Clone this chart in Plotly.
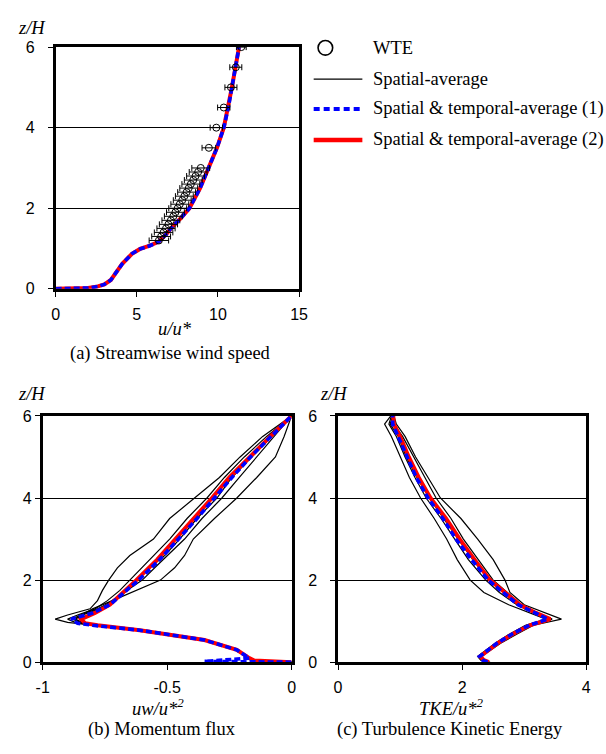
import plotly.graph_objects as go

W, H = 606, 754

# ---------------- Panel (a): streamwise wind speed ----------------
a_z = [0, 0.02, 0.06, 0.11, 0.22, 0.38, 0.62, 0.87, 0.99, 1.07, 1.17, 1.35, 1.5, 1.75, 2.0, 2.5, 3.0, 3.5, 4.0, 4.5, 5.0, 5.5, 6.0]
a_u = [0, 2.0, 2.6, 3.0, 3.4, 3.7, 4.1, 4.7, 5.2, 5.8, 6.35, 6.8, 7.1, 7.7, 8.24, 8.9, 9.44, 9.94, 10.36, 10.64, 10.86, 11.08, 11.3]

wte_z = [1.2, 1.3, 1.4, 1.5, 1.6, 1.7, 1.8, 1.9, 2.0, 2.1, 2.2, 2.3, 2.4, 2.5, 2.6, 2.7, 2.8, 2.9, 3.0,
         3.5, 4.0, 4.5, 5.0, 5.5, 6.0]
wte_u = [6.36, 6.5, 6.65, 6.8, 6.95, 7.1, 7.25, 7.38, 7.52, 7.65, 7.8, 7.93, 8.07, 8.2, 8.33, 8.48, 8.62, 8.78, 8.94,
         9.44, 9.9, 10.36, 10.8, 11.1, 11.44]
wte_err = [0.6, 0.58, 0.57, 0.56, 0.56, 0.55, 0.55, 0.55, 0.55, 0.55, 0.55, 0.55, 0.55, 0.55, 0.55, 0.55, 0.55, 0.55, 0.55,
           0.42, 0.38, 0.38, 0.37, 0.37, 0.3]

# ---------------- Panel (b): momentum flux ----------------
b_red_z = [0, 0.04, 0.1, 0.3, 0.54, 0.78, 0.9, 0.95, 1.05, 1.2, 1.4, 1.7, 2.0, 2.5, 3.0, 3.5, 4.0, 4.5, 5.0, 5.5, 6.0]
b_red_x = [0, -0.15, -0.17, -0.22, -0.35, -0.61, -0.78, -0.83, -0.846, -0.79, -0.73, -0.675, -0.624, -0.54, -0.465, -0.39, -0.32, -0.25, -0.17, -0.085, 0]
b_blue_z = [0, 0.02, 0.1, 0.3, 0.54, 0.78, 0.9, 0.95, 1.05, 1.2, 1.4, 1.7, 2.0, 2.5, 3.0, 3.5, 4.0, 4.5, 5.0, 5.5, 6.0]
b_blue_x = [0, -0.35, -0.17, -0.22, -0.35, -0.61, -0.80, -0.86, -0.885, -0.80, -0.73, -0.67, -0.615, -0.53, -0.455, -0.38, -0.31, -0.24, -0.165, -0.08, 0]

b_blk_z = [0, 0.04, 0.1, 0.3, 0.54, 0.78, 0.9, 0.97, 1.05, 1.15, 1.3, 1.5, 1.75, 2.0, 2.3, 2.6, 3.0, 3.5, 4.0, 4.5, 5.0, 5.5, 6.0]
b_blk1 = [0, -0.15, -0.175, -0.225, -0.36, -0.62, -0.80, -0.90, -0.95, -0.90, -0.81, -0.78, -0.76, -0.735, -0.70, -0.65, -0.555, -0.49, -0.39, -0.29, -0.207, -0.116, 0]
b_blk2 = [0, -0.15, -0.17, -0.22, -0.35, -0.61, -0.78, -0.84, -0.87, -0.84, -0.80, -0.72, -0.62, -0.527, -0.47, -0.43, -0.395, -0.31, -0.22, -0.14, -0.065, -0.03, 0]
b_blk3 = [0, -0.15, -0.17, -0.22, -0.35, -0.61, -0.79, -0.85, -0.87, -0.84, -0.77, -0.72, -0.66, -0.60, -0.55, -0.50, -0.43, -0.36, -0.28, -0.21, -0.14, -0.07, 0]
b_blk4 = [0, -0.15, -0.17, -0.22, -0.35, -0.61, -0.80, -0.87, -0.90, -0.86, -0.79, -0.74, -0.69, -0.65, -0.60, -0.55, -0.49, -0.42, -0.34, -0.27, -0.19, -0.10, 0]
b_blk5 = [0, -0.15, -0.17, -0.22, -0.35, -0.61, -0.79, -0.85, -0.88, -0.85, -0.78, -0.71, -0.66, -0.62, -0.57, -0.51, -0.45, -0.38, -0.30, -0.24, -0.16, -0.08, 0]

# ---------------- Panel (c): turbulence kinetic energy ----------------
c_z = [0, 0.05, 0.14, 0.26, 0.46, 0.7, 0.9, 1.05, 1.2, 1.4, 1.7, 2.0, 2.5, 3.0, 3.5, 4.0, 4.5, 5.0, 5.5, 5.8, 6.0]
c_red = [2.43, 2.35, 2.29, 2.39, 2.57, 2.83, 3.09, 3.42, 3.19, 2.93, 2.69, 2.45, 2.2, 1.96, 1.74, 1.49, 1.30, 1.14, 1.0, 0.9, 0.89]
c_blue = [2.41, 2.33, 2.28, 2.38, 2.56, 2.82, 3.08, 3.38, 3.17, 2.9, 2.66, 2.42, 2.15, 1.9, 1.69, 1.45, 1.26, 1.11, 0.97, 0.88, 0.88]
c_blk1 = [2.45, 2.36, 2.31, 2.42, 2.62, 2.9, 3.15, 3.6, 3.35, 3.0, 2.77, 2.69, 2.5, 2.25, 1.98, 1.65, 1.45, 1.25, 1.08, 0.94, 0.9]
c_blk2 = [2.38, 2.3, 2.25, 2.35, 2.53, 2.78, 3.02, 3.35, 3.1, 2.75, 2.35, 2.13, 1.92, 1.75, 1.55, 1.33, 1.15, 1.0, 0.86, 0.75, 0.85]
c_blk3 = [2.4, 2.32, 2.27, 2.37, 2.55, 2.8, 3.05, 3.38, 3.15, 2.88, 2.6, 2.38, 2.1, 1.88, 1.66, 1.42, 1.24, 1.08, 0.94, 0.82, 0.86]
c_blk4 = [2.42, 2.34, 2.3, 2.4, 2.58, 2.85, 3.1, 3.45, 3.22, 2.95, 2.72, 2.5, 2.26, 2.02, 1.82, 1.58, 1.4, 1.22, 1.04, 0.9, 0.9]
c_blk5 = [2.41, 2.33, 2.28, 2.38, 2.56, 2.82, 3.08, 3.4, 3.17, 2.9, 2.66, 2.43, 2.17, 1.93, 1.7, 1.47, 1.27, 1.1, 0.97, 0.84, 0.88]

# ---------------- tick labels ----------------
a_xticks = [0, 5, 10, 15]
a_xtext = ["0", "5", "10", "15"]
b_xticks = [-1, -0.5, 0]
b_xtext = ["-1", "-0.5", "0"]
c_xticks = [0, 2, 4]
c_xtext = ["0", "2", "4"]
z_ticks = [0, 2, 4, 6]
z_text = ["0", "2", "4", "6"]

legend_labels = ["WTE", "Spatial-average", "Spatial &amp; temporal-average (1)", "Spatial &amp; temporal-average (2)"]

RED = "#ff0000"
BLUE = "#0000ff"
SERIF = "Liberation Serif, Times New Roman, serif"
SANS = "Liberation Sans, Arial, sans-serif"

fig = go.Figure()

def add_lines(xa, ya, zvals_blk, blacks, zr, xr, zb, xb):
    for bx in blacks:
        fig.add_trace(go.Scatter(x=bx, y=zvals_blk, mode="lines", line=dict(color="black", width=1.2),
                                 xaxis=xa, yaxis=ya, showlegend=False))
    fig.add_trace(go.Scatter(x=xr, y=zr, mode="lines", line=dict(color=RED, width=4),
                             xaxis=xa, yaxis=ya, showlegend=False))
    fig.add_trace(go.Scatter(x=xb, y=zb, mode="lines", line=dict(color=BLUE, width=3.6, dash="6px,3px"),
                             xaxis=xa, yaxis=ya, showlegend=False))

# panel a
add_lines("x", "y", a_z, [a_u], a_z, a_u, a_z, a_u)
fig.add_trace(go.Scatter(x=wte_u, y=wte_z, mode="markers", xaxis="x", yaxis="y", showlegend=False,
                         marker=dict(symbol="circle-open", size=7, color="black", line=dict(width=1, color="black")),
                         error_x=dict(type="data", array=wte_err, color="black", thickness=1, width=3)))
# panel b
add_lines("x2", "y2", b_blk_z, [b_blk1, b_blk2, b_blk3, b_blk4, b_blk5], b_red_z, b_red_x, b_blue_z, b_blue_x)
# panel c
add_lines("x3", "y3", c_z, [c_blk1, c_blk2, c_blk3, c_blk4, c_blk5], c_z, c_red, c_z, c_blue)


def xax(dom, rng, tv, tt):
    return dict(domain=[dom[0] / W, dom[1] / W], range=rng, tickvals=tv, ticktext=tt,
                showline=True, linecolor="black", linewidth=2.5, mirror=True,
                ticks="outside", ticklen=5, tickwidth=1, tickcolor="black",
                showgrid=False, zeroline=False, fixedrange=True,
                tickfont=dict(family=SANS, size=16, color="black"), ticklabelstandoff=4)


def yax(dom, standoff):
    return dict(domain=[1 - dom[1] / H, 1 - dom[0] / H], range=[0, 6], tickvals=z_ticks, ticktext=z_text,
                showline=True, linecolor="black", linewidth=2.5, mirror=True,
                ticks="outside", ticklen=5, tickwidth=1, tickcolor="black",
                showgrid=True, gridcolor="black", gridwidth=1, zeroline=False, fixedrange=True,
                tickfont=dict(family=SANS, size=16, color="black"), ticklabelstandoff=standoff)


fig.update_layout(
    width=W, height=H, margin=dict(l=0, r=0, t=0, b=0), autosize=False,
    paper_bgcolor="white", plot_bgcolor="white", showlegend=False,
    xaxis=dict(xax((50, 300), [0, 15], a_xticks, a_xtext), anchor="y"),
    yaxis=dict(yax((40, 287.3), 10), anchor="x"),
    xaxis2=dict(xax((36.7, 292.3), [-1, 0], b_xticks, b_xtext), anchor="y2"),
    yaxis2=dict(yax((417.3, 669.3), 0), anchor="x2"),
    xaxis3=dict(xax((340, 595), [0, 4], c_xticks, c_xtext), anchor="y3"),
    yaxis3=dict(yax((417.3, 669.3), 10), anchor="x3"),
)


def P(px, py):
    return px / W, 1 - py / H


annotations = []
shapes = []


def text(px, py, s, size=18.5, italic=False, xanchor="center"):
    x, y = P(px, py)
    if italic:
        s = "<i>" + s + "</i>"
    annotations.append(dict(x=x, y=y, xref="paper", yref="paper", text=s, showarrow=False,
                            xanchor=xanchor, yanchor="middle",
                            font=dict(family=SERIF, size=size, color="black")))


# axis titles and captions
text(26, 20, "z/H", italic=True)
text(26, 395, "z/H", italic=True)
text(336, 395, "z/H", italic=True)
text(172.5, 328, "u/u*", italic=True)
text(155, 715, "uw/u*<sup>2</sup>", italic=True)
text(457, 715, "TKE/u*<sup>2</sup>", italic=True)
text(167.5, 353, "(a) Streamwise wind speed")
text(159, 738, "(b) Momentum flux")
text(455, 738, "(c) Turbulence Kinetic Energy")

# legend
leg_y = [40.7, 72.7, 103.3, 135]
for lab, ly in zip(legend_labels, leg_y):
    text(374, ly, lab, xanchor="left")

x0, y0 = P(319.5, leg_y[0] - 7.5)
x1, y1 = P(334.5, leg_y[0] + 7.5)
shapes.append(dict(type="circle", xref="paper", yref="paper", x0=x0, y0=y1, x1=x1, y1=y0,
                   line=dict(color="black", width=1.6)))
for ly, col, wid, dash in [(leg_y[1], "black", 1.3, "solid"), (leg_y[2], BLUE, 4, "6px,4px"), (leg_y[3], RED, 4.5, "solid")]:
    xa, ya = P(315, ly)
    xb, _ = P(365, ly)
    shapes.append(dict(type="line", xref="paper", yref="paper", x0=xa, y0=ya, x1=xb, y1=ya,
                       line=dict(color=col, width=wid, dash=dash)))

fig.update_layout(annotations=annotations, shapes=shapes)

fig.write_html("out.html")
